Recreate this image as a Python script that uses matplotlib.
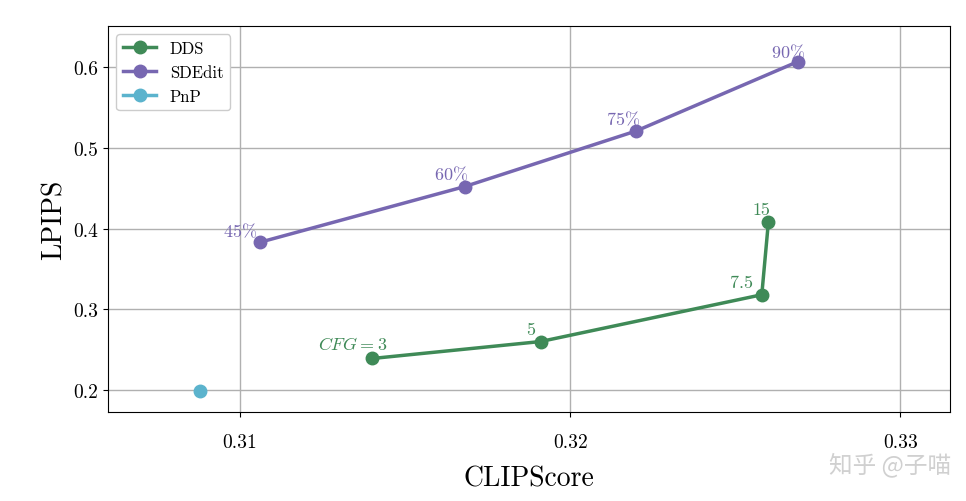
import matplotlib
matplotlib.use('Agg')
import matplotlib.pyplot as plt

plt.rcParams['font.family'] = 'serif'
plt.rcParams['font.serif'] = ['cmr10']
plt.rcParams['mathtext.fontset'] = 'cm'
plt.rcParams['axes.formatter.use_mathtext'] = True

dds_clip = [0.3140, 0.3191, 0.3258, 0.3260]
dds_lpips = [0.239, 0.260, 0.318, 0.408]
dds_labels = [r'$CFG=3$', '5', '7.5', '15']

sde_clip = [0.3106, 0.3168, 0.3220, 0.3269]
sde_lpips = [0.383, 0.452, 0.521, 0.607]
sde_labels = ['45', '60', '75', '90']

pnp_clip = [0.3088]
pnp_lpips = [0.199]

green = '#3f8a57'
purple = '#7767b1'
cyan = '#5bb3cd'

fig = plt.figure(figsize=(9.66, 5.02), dpi=100)
ax = fig.add_axes([108/966, 89/502, 842/966, 386/502])

ax.plot(dds_clip, dds_lpips, '-o', color=green, lw=2.5, ms=9, label='DDS')
ax.plot(sde_clip, sde_lpips, '-o', color=purple, lw=2.5, ms=9, label='SDEdit')
ax.plot(pnp_clip, pnp_lpips, '-o', color=cyan, lw=2.5, ms=9, label='PnP')

dds_off = [(-0.0006, 0.008), (-0.0003, 0.006), (-0.0006, 0.006), (-0.0002, 0.006)]
for x, y, t, (dx, dy) in zip(dds_clip, dds_lpips, dds_labels, dds_off):
    ax.text(x + dx, y + dy, t, color=green, fontsize=13, ha='center', va='bottom')
sde_off = [(-0.0006, 0.004), (-0.0004, 0.005), (-0.0004, 0.005), (-0.0003, 0.002)]
for x, y, t, (dx, dy) in zip(sde_clip, sde_lpips, sde_labels, sde_off):
    ax.text(x + dx, y + dy, t + r'$\%$', color=purple, fontsize=13, ha='center', va='bottom')

ax.set_xlim(0.3060, 0.3315)
ax.set_ylim(0.1727, 0.651)
ax.set_xticks([0.31, 0.32, 0.33])
ax.set_xticklabels(['0.31', '0.32', '0.33'])
ax.set_yticks([0.2, 0.3, 0.4, 0.5, 0.6])
ax.set_yticklabels(['0.2', '0.3', '0.4', '0.5', '0.6'])
ax.tick_params(labelsize=14)
ax.tick_params(axis='x', pad=12)
ax.grid(True, color='#b0b0b0', lw=1)
ax.set_axisbelow(True)
ax.set_xlabel('CLIPScore', fontsize=20, labelpad=10)
ax.set_ylabel('LPIPS', fontsize=20)
ax.legend(loc='upper left', fontsize=12, framealpha=1)

fig.text(0.985, 0.075, '知乎 @子喵', fontsize=17, color='#d0d0d0', ha='right',
         va='center', fontfamily=['Noto Sans CJK SC', 'Noto Sans CJK JP', 'DejaVu Sans'])

fig.savefig('out.png', dpi=100)
